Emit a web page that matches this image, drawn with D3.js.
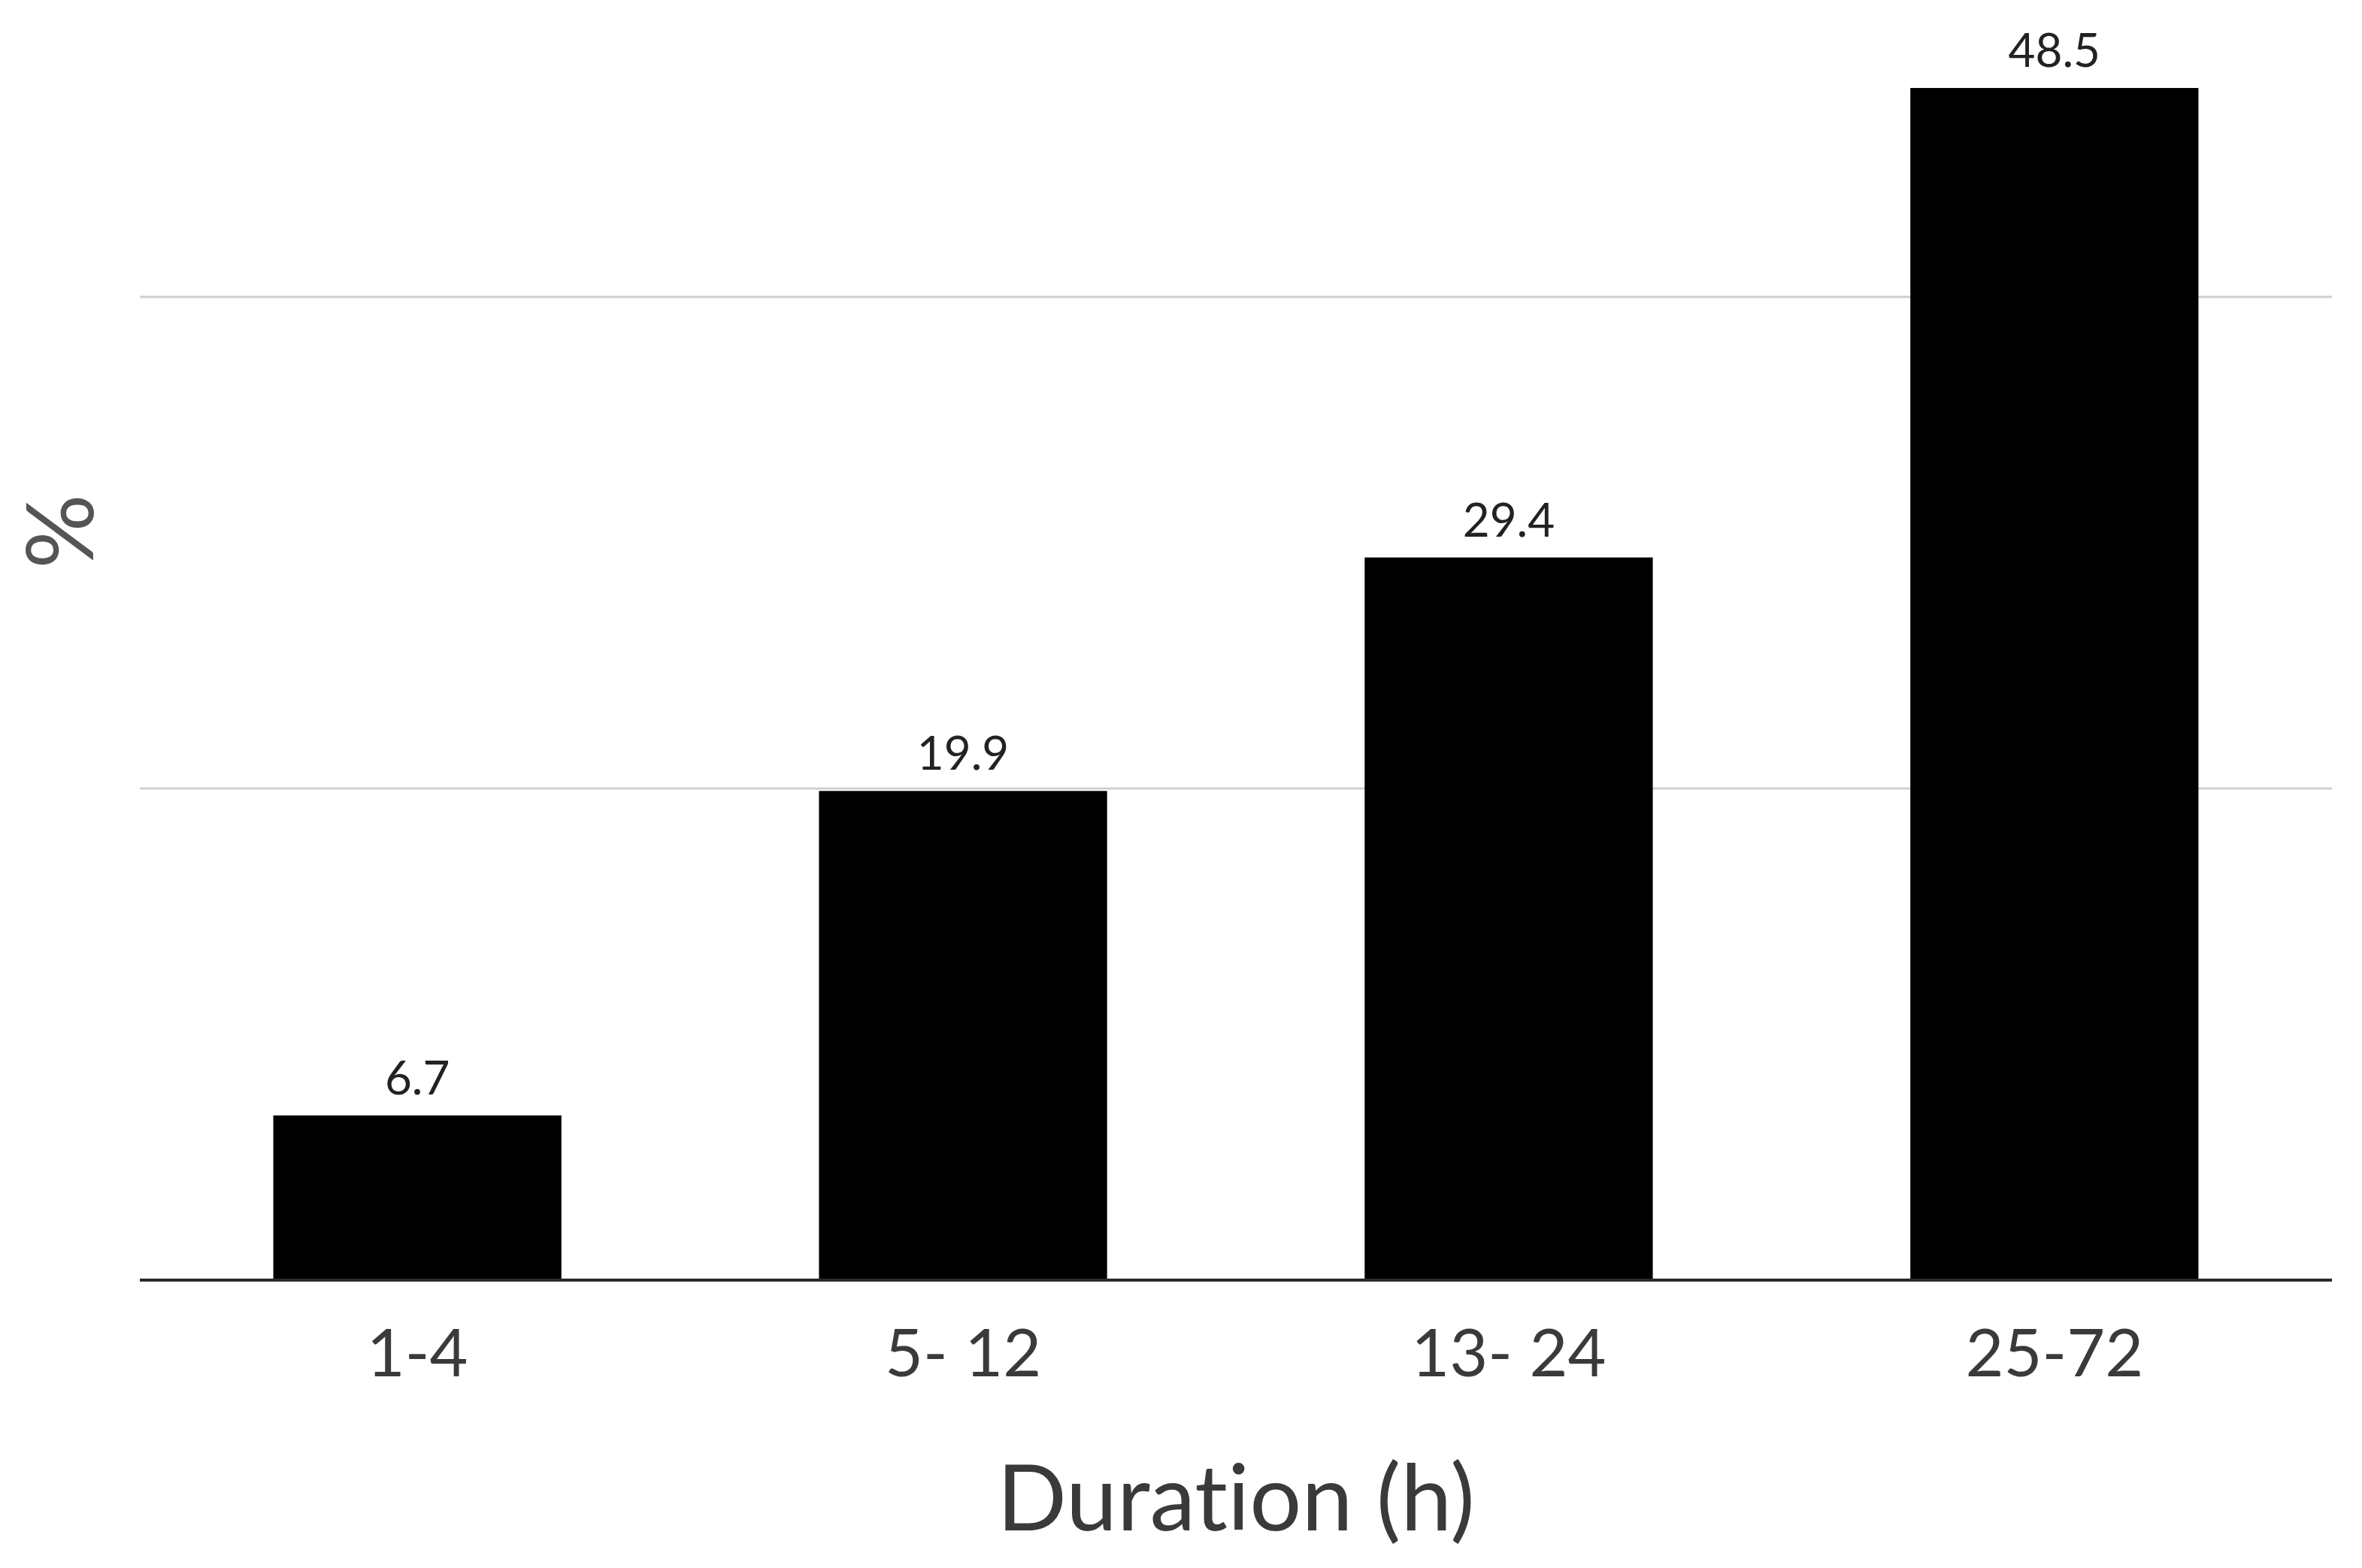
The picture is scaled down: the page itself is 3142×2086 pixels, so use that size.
<!DOCTYPE html>
<html>
<head>
<meta charset="utf-8">
<script src="https://cdn.jsdelivr.net/npm/d3@7"></script>
<style>
  html, body { margin: 0; padding: 0; background: #fff; }
  svg { display: block; }
  text { font-variant-ligatures: none; font-feature-settings: "liga" 0, "clig" 0; }
</style>
</head>
<body>
<script>
const categories = ["1-4", "5- 12", "13- 24", "25-72"];
const values = [6.7, 19.9, 29.4, 48.5];
const valueLabels = ["6.7", "19.9", "29.4", "48.5"];
const gridTicks = [20, 40];
const xTitle = "Duration (h)";
const yTitle = "%";

const W = 3142, H = 2086;
const left = 186, right = 3102, baseY = 1703;

const svg = d3.select("body").append("svg").attr("width", W).attr("height", H);

const x = d3.scaleBand().domain(categories).range([left, right]).paddingInner(0.472).paddingOuter(0.2446);
const y = d3.scaleLinear().domain([0, 50]).range([baseY, 68]);

// gridlines
svg.append("g").selectAll("line").data(gridTicks).join("line")
  .attr("x1", left).attr("x2", right)
  .attr("y1", d => y(d)).attr("y2", d => y(d))
  .attr("stroke", "#cfcfcf").attr("stroke-width", 3);

// bars
svg.append("g").selectAll("rect").data(values).join("rect")
  .attr("x", (d, i) => x(categories[i]))
  .attr("width", x.bandwidth())
  .attr("y", d => y(d))
  .attr("height", d => y(0) - y(d))
  .attr("fill", "#000");

// value labels
svg.append("g").selectAll("text").data(values).join("text")
  .attr("x", (d, i) => x(categories[i]) + x.bandwidth() / 2)
  .attr("y", d => y(d) - 28)
  .attr("text-anchor", "middle")
  .attr("font-family", "Lato, 'Open Sans', sans-serif")
  .attr("font-size", 62)
  .attr("fill", "#222")
  .text((d, i) => valueLabels[i]);

// x axis
const xAxis = d3.axisBottom(x).tickSize(0).tickPadding(66);
const gx = svg.append("g").attr("transform", `translate(0,${baseY})`).call(xAxis);
gx.select(".domain").attr("stroke", "#2a2a2a").attr("stroke-width", 4)
  .attr("d", `M${left},0H${right}`);
gx.selectAll(".tick text")
  .attr("font-family", "Lato, 'Open Sans', sans-serif")
  .attr("font-size", 88)
  .attr("fill", "#3a3a3a");

// axis titles
svg.append("text")
  .attr("x", (left + right) / 2).attr("y", 2036)
  .attr("text-anchor", "middle")
  .attr("font-family", "Lato, 'Open Sans', sans-serif")
  .attr("font-size", 122)
  .attr("fill", "#3a3a3a")
  .text(xTitle);

svg.append("text")
  .attr("transform", "translate(124,707) rotate(-90)")
  .attr("text-anchor", "middle")
  .attr("font-family", "Lato, 'Open Sans', sans-serif")
  .attr("font-size", 124)
  .attr("fill", "#555")
  .text(yTitle);
</script>
</body>
</html>
